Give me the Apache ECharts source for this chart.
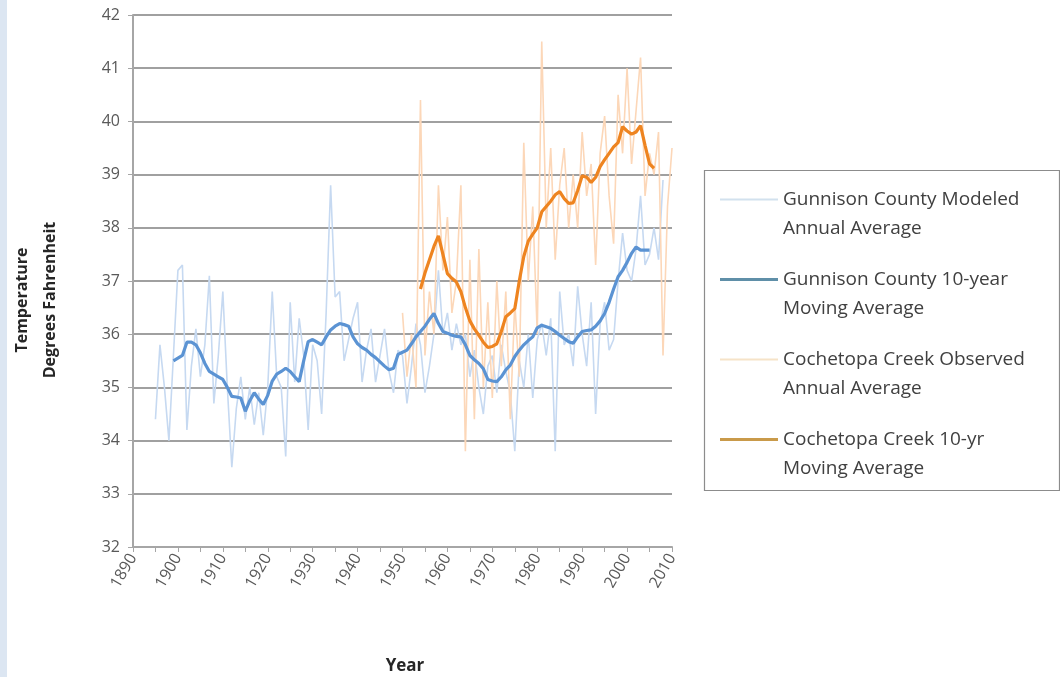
<!DOCTYPE html>
<html><head><meta charset="utf-8">
<script src="https://cdn.jsdelivr.net/npm/echarts@6/dist/echarts.min.js"></script>
<style>html,body{margin:0;padding:0;background:#fff}#c{width:1060px;height:677px}</style>
</head><body><div id="c"></div>
<script>
// ---- data ----
const xTickLabels = [1890,1900,1910,1920,1930,1940,1950,1960,1970,1980,1990,2000,2010];
const yTickLabels = [32,33,34,35,36,37,38,39,40,41,42];
const seriesNames = [
  'Gunnison County Modeled\nAnnual Average',
  'Gunnison County 10-year\nMoving Average',
  'Cochetopa Creek Observed\nAnnual Average',
  'Cochetopa Creek 10-yr\nMoving Average'
];
const gunnisonAnnualStart = 1895;
const gunnisonAnnual = [
  34.4,35.8,35.0,34.0,35.6,37.2,37.3,34.2,35.4,36.1,
  35.2,35.8,37.1,34.7,35.6,36.8,35.0,33.5,34.6,35.2,
  34.4,35.0,34.3,34.9,34.1,35.0,36.8,35.2,35.0,33.7,
  36.6,35.1,36.3,35.6,34.2,35.8,35.5,34.5,36.4,38.8,
  36.7,36.8,35.5,35.9,36.3,36.6,35.1,35.7,36.1,35.1,
  35.6,36.1,35.3,34.9,35.7,35.6,34.7,35.4,36.2,35.8,
  34.9,35.4,36.0,37.2,36.0,36.4,35.7,36.2,35.8,36.0,
  35.2,35.7,35.0,34.5,35.4,35.6,34.9,35.8,35.3,34.9,
  33.8,35.5,35.0,36.0,34.8,35.9,36.2,35.6,36.3,33.8,
  36.8,35.8,36.0,35.4,36.9,36.0,35.4,36.6,34.5,36.2,
  36.6,35.7,35.9,37.0,37.9,37.2,37.0,37.6,38.6,37.3,
  37.5,38.0,37.4,38.9
];
const gunnisonMAStart = 1899;
const gunnisonMA = [
  35.5,35.55,35.6,35.85,35.85,35.8,35.65,35.45,35.3,35.25,
  35.2,35.15,35.0,34.83,34.82,34.8,34.55,34.75,34.9,34.78,
  34.68,34.85,35.12,35.25,35.3,35.36,35.3,35.2,35.11,35.5,
  35.86,35.9,35.85,35.8,35.95,36.08,36.15,36.2,36.18,36.15,
  35.95,35.82,35.75,35.7,35.62,35.56,35.48,35.4,35.33,35.36,
  35.62,35.66,35.7,35.82,35.95,36.05,36.15,36.28,36.39,36.2,
  36.05,36.02,35.98,35.96,35.95,35.8,35.6,35.52,35.45,35.35,
  35.15,35.12,35.11,35.2,35.33,35.42,35.58,35.7,35.8,35.88,
  35.95,36.12,36.17,36.14,36.11,36.05,35.98,35.92,35.86,35.83,
  35.95,36.05,36.07,36.08,36.15,36.25,36.39,36.6,36.85,37.08,
  37.2,37.35,37.52,37.64,37.58,37.58,37.58
];
const cochetopaAnnualStart = 1950;
const cochetopaAnnual = [
  36.4,35.2,36.0,35.0,40.4,35.6,36.8,36.0,38.8,37.2,
  38.2,36.4,37.0,38.8,33.8,37.4,34.4,37.6,35.0,36.6,
  34.8,37.0,35.4,36.8,34.4,36.6,35.2,39.6,37.0,38.4,
  36.0,41.5,38.0,39.5,37.4,38.8,39.5,38.0,39.0,38.0,
  39.8,38.6,39.2,37.3,39.4,40.1,38.6,37.7,40.5,39.4,
  41.0,39.2,40.2,41.2,38.6,39.4,39.0,39.8,35.6,38.4,
  39.5
];
const cochetopaMAStart = 1954;
const cochetopaMA = [
  36.85,37.15,37.4,37.65,37.85,37.5,37.14,37.05,36.98,36.8,
  36.5,36.25,36.1,35.98,35.85,35.75,35.77,35.82,36.05,36.33,
  36.4,36.48,37.0,37.46,37.75,37.88,38.0,38.3,38.4,38.5,
  38.62,38.68,38.55,38.46,38.47,38.7,38.98,38.95,38.85,38.95,
  39.15,39.28,39.4,39.52,39.6,39.9,39.82,39.76,39.8,39.92,
  39.55,39.2,39.12
];
// ---- build ----
function pairs(start, vals){ return vals.map((v,i)=>[start+i, v]); }
const colors = ['#c6d9f1', '#5b93d3', '#fcd7b8', '#ee8420'];
const widths = [1.6, 3.2, 1.6, 3.2];
const datasets = [
  pairs(gunnisonAnnualStart, gunnisonAnnual),
  pairs(gunnisonMAStart, gunnisonMA),
  pairs(cochetopaAnnualStart, cochetopaAnnual),
  pairs(cochetopaMAStart, cochetopaMA)
];
const legendIcons = [
  'path://M0,0L0.01,0L0.01,0.01Z M0,14L0.01,14L0.01,13.99Z M0,6L58,6L58,8L0,8Z',
  'path://M0,0L0.01,0L0.01,0.01Z M0,14L0.01,14L0.01,13.99Z M0,5.5L58,5.5L58,8.5L0,8.5Z',
  'path://M0,0L0.01,0L0.01,0.01Z M0,14L0.01,14L0.01,13.99Z M0,6L58,6L58,8L0,8Z',
  'path://M0,0L0.01,0L0.01,0.01Z M0,14L0.01,14L0.01,13.99Z M0,5.5L58,5.5L58,8.5L0,8.5Z'
];
const legendColors = ['#d2e1ee', '#5f8fa8', '#f6e3c8', '#c99a4a'];
const drawOrder = [0, 2, 1, 3];
const chart = echarts.init(document.getElementById('c'), null, {renderer:'canvas'});
const FONT = 'Open Sans';
const axisGray = '#a6a6a6';
chart.setOption({
  animation: false,
  backgroundColor: '#ffffff',
  grid: {left: 133, right: 388, top: 15, bottom: 130, containLabel: false},
  xAxis: {
    type: 'value', min: xTickLabels[0], max: xTickLabels[xTickLabels.length-1], interval: 10,
    axisLine: {show: true, onZero: false, lineStyle: {color: axisGray, width: 2}},
    axisTick: {show: true, length: 5, lineStyle: {color: axisGray, width: 1}},
    minorTick: {show: true, splitNumber: 2, length: 5, lineStyle: {color: axisGray, width: 1}},
    splitLine: {show: false},
    axisLabel: {rotate: 60, color: '#595959', fontSize: 16, fontFamily: FONT, margin: 8,
      formatter: v => String(v)}
  },
  yAxis: {
    type: 'value', min: yTickLabels[0], max: yTickLabels[yTickLabels.length-1], interval: 1,
    axisLine: {show: true, lineStyle: {color: axisGray, width: 2}},
    axisTick: {show: true, length: 5, lineStyle: {color: axisGray, width: 1}},
    splitLine: {show: true, lineStyle: {color: '#a0a0a0', width: 2}},
    axisLabel: {color: '#595959', fontSize: 16, fontFamily: FONT, margin: 13}
  },
  legend: {
    left: 720, top: 156, orient: 'vertical', itemGap: -7,
    itemWidth: 58, itemHeight: 14, padding: 0,
    formatter: n => '\n' + n,
    data: seriesNames.map((n,i)=>({name:n, icon: legendIcons[i],
      itemStyle:{color: legendColors[i], borderWidth: 0}})),
    textStyle: {fontFamily: FONT, fontSize: 19, color: '#404040', lineHeight: 29},
    selectedMode: false
  },
  graphic: [
    {type:'rect', left: 0, top: 0, shape:{width: 7, height: 677}, style:{fill:'#dce6f2'}, silent:true},
    {type:'rect', left: 702, top: 168, shape:{width: 355, height: 320}, style:{fill:'none', stroke:'#8c8c8c', lineWidth:1.2}, silent:true, z: -1},
    {type:'text', x: 22, y: 300, rotation: Math.PI/2, style:{text:'Temperature', fill:'#262626', font:'bold 16px "Open Sans"', align:'center', verticalAlign:'middle'}},
    {type:'text', x: 50, y: 300, rotation: Math.PI/2, style:{text:'Degrees Fahrenheit', fill:'#262626', font:'bold 16px "Open Sans"', align:'center', verticalAlign:'middle'}},
    {type:'text', x: 405, y: 666, style:{text:'Year', fill:'#262626', font:'bold 17px "Open Sans"', align:'center', verticalAlign:'middle'}}
  ],
  series: drawOrder.map(i => ({
    name: seriesNames[i], type: 'line', data: datasets[i], showSymbol: false, symbol: 'none',
    lineStyle: {color: colors[i], width: widths[i]}, itemStyle: {color: colors[i]},
    smooth: false, z: 2 + drawOrder.indexOf(i)
  }))
});
</script></body></html>
